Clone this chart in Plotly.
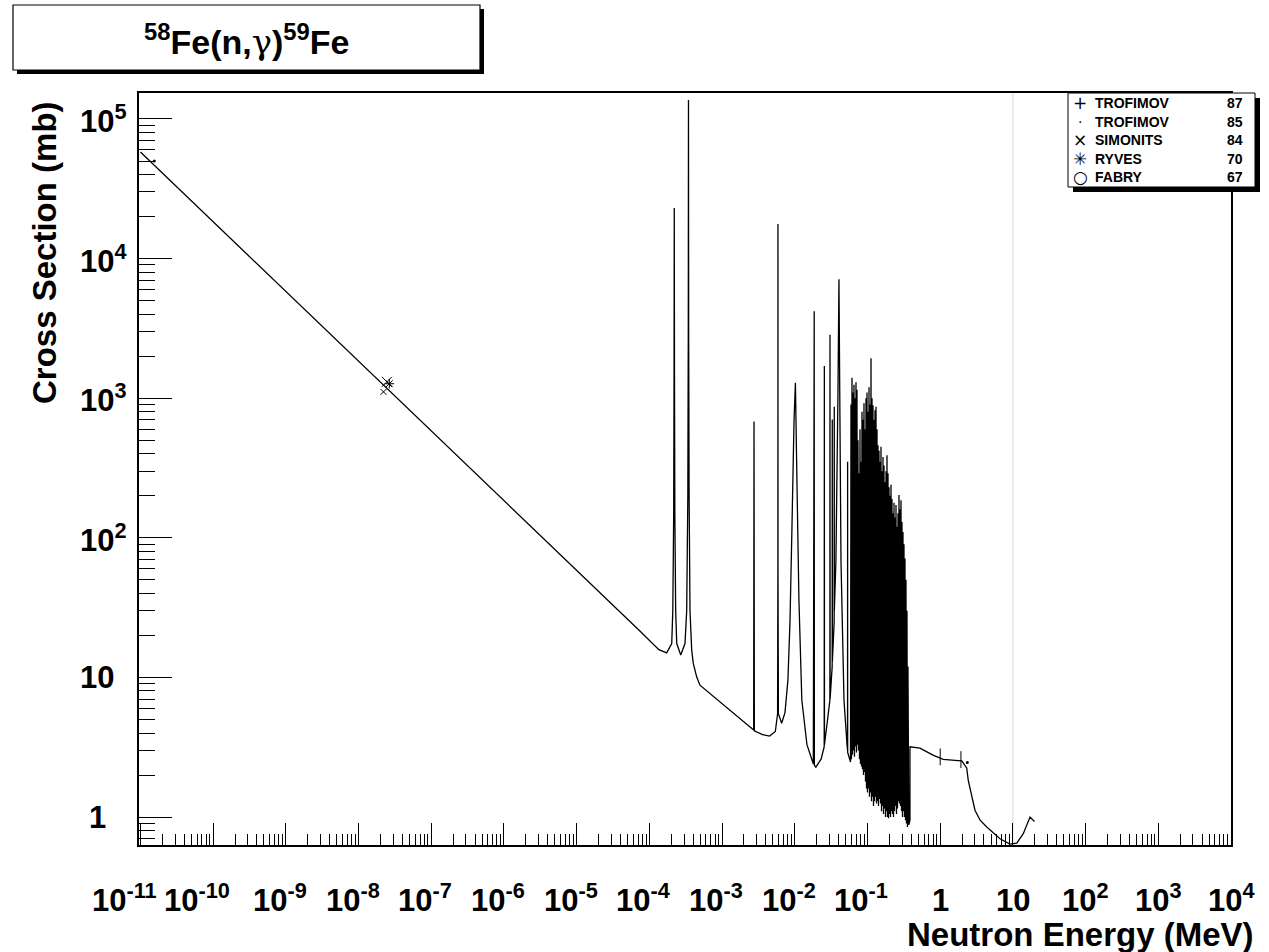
import plotly.graph_objects as go
import math

# ---------------- data ----------------
# 1/v region and first two resonances (E in MeV, sigma in mb)
thermal_E = [1.0e-11, 7.4e-5, 1.35e-4, 1.73e-4, 2.03e-4, 2.10e-4, 2.16e-4, 2.185e-4, 2.20e-4,
             2.215e-4, 2.24e-4, 2.30e-4, 2.38e-4, 2.70e-4, 3.09e-4, 3.26e-4, 3.38e-4, 3.43e-4,
             3.45e-4, 3.47e-4, 3.52e-4, 3.62e-4, 3.82e-4, 4.02e-4, 4.47e-4, 4.96e-4]
thermal_S = [5.8e4, 21.5, 15.8, 15.0, 17.5, 30, 150, 1500, 2.3e4,
             1500, 150, 30, 17.5, 14.5, 17.5, 30, 200, 3000,
             1.37e5, 3000, 200, 30, 15.7, 12.6, 10.1, 8.8]

# resolved resonances 2.7 keV - 58 keV
resolved_E = [2.72e-3, 2.75e-3, 2.78e-3, 3.6e-3, 4.5e-3, 5.4e-3, 5.8e-3, 5.86e-3, 5.87e-3,
              5.88e-3, 5.95e-3, 6.6e-3, 7.33e-3, 8.05e-3, 8.59e-3, 9.13e-3, 9.77e-3, 1.02e-2,
              1.07e-2, 1.14e-2, 1.25e-2, 1.47e-2, 1.80e-2, 1.85e-2, 1.86e-2, 1.95e-2, 2.3e-2,
              2.54e-2, 2.55e-2, 2.56e-2, 2.8e-2, 3.04e-2, 3.05e-2, 3.06e-2, 3.27e-2, 3.28e-2,
              3.29e-2, 3.48e-2, 3.49e-2, 3.50e-2, 3.68e-2, 3.92e-2, 4.05e-2, 4.2e-2, 4.32e-2,
              4.75e-2, 5.23e-2, 5.32e-2, 5.33e-2, 5.34e-2, 5.84e-2]
resolved_S = [4.2, 680, 4.15, 3.9, 3.8, 4.1, 5.5, 60, 1.77e4,
              60, 5.5, 4.7, 5.6, 9.6, 25, 114, 700, 1290,
              260, 36, 6.9, 3.3, 2.4, 4200, 2.35, 2.28, 2.6,
              3.2, 1700, 3.3, 4.8, 6.9, 2850, 7.0, 12, 705,
              13, 25, 870, 30, 69, 1000, 7100, 500, 69,
              6.9, 3.3, 3.0, 350, 2.9, 2.48]

# dense resonance region 59 keV - 0.38 MeV : peaks and troughs
dense_peak_E = [0.0593, 0.0612, 0.0631, 0.0652, 0.0673, 0.0695, 0.0717, 0.0740, 0.0764, 0.0789,
                0.0814, 0.0840, 0.0867, 0.0895, 0.0924, 0.0954, 0.0985, 0.1016, 0.1049, 0.1083,
                0.1118, 0.1154, 0.1191, 0.1229, 0.1269, 0.1310, 0.1352, 0.1395, 0.1440, 0.1487,
                0.1534, 0.1584, 0.1635, 0.1687, 0.1742, 0.1798, 0.1855, 0.1915, 0.1977, 0.2040,
                0.2106, 0.2173, 0.2243, 0.2315, 0.2390, 0.2467, 0.2546, 0.2628, 0.2712, 0.2799,
                0.2890, 0.2982, 0.3078, 0.3177, 0.3279, 0.3384, 0.3493, 0.3605]
dense_peak_S = [900, 1400, 1100, 1250, 1000, 1300, 1150, 500, 290, 600,
                350, 800, 700, 920, 600, 1000, 1100, 800, 1200, 900,
                1930, 1000, 890, 700, 820, 870, 600, 460, 420, 350,
                450, 300, 380, 330, 250, 300, 390, 290, 230, 200,
                240, 190, 150, 178, 140, 172, 120, 150, 203, 160,
                186, 130, 110, 90, 71, 50, 30, 12]
dense_trough_E = [0.0602, 0.0621, 0.0641, 0.0662, 0.0684, 0.0706, 0.0728, 0.0752, 0.0776, 0.0801,
                  0.0827, 0.0853, 0.0881, 0.0909, 0.0939, 0.0969, 0.1000, 0.1032, 0.1066, 0.1100,
                  0.1136, 0.1172, 0.1210, 0.1249, 0.1289, 0.1331, 0.1373, 0.1417, 0.1463, 0.1510,
                  0.1559, 0.1609, 0.1661, 0.1714, 0.1770, 0.1826, 0.1885, 0.1946, 0.2008, 0.2073,
                  0.2139, 0.2208, 0.2279, 0.2352, 0.2428, 0.2506, 0.2587, 0.2670, 0.2756, 0.2844,
                  0.2936, 0.3030, 0.3127, 0.3228, 0.3331, 0.3438, 0.3549, 0.3700]
dense_trough_S = [2.6, 2.8, 3.0, 2.7, 3.2, 2.9, 3.3, 3.0, 2.6, 2.4,
                  2.3, 2.2, 2.0, 2.1, 1.8, 1.6, 1.5, 1.6, 1.4, 1.5,
                  1.3, 1.4, 1.2, 1.3, 1.4, 1.25, 1.3, 1.2, 1.35, 1.25,
                  1.1, 1.2, 1.05, 1.15, 1.0, 1.1, 1.0, 0.98, 1.05, 1.0,
                  1.1, 1.05, 1.0, 1.1, 1.2, 1.05, 1.15, 1.3, 1.25, 1.2,
                  1.1, 1.0, 1.1, 1.0, 0.95, 0.9, 0.85, 0.88]

# smooth continuum above 0.38 MeV
cont_E = [0.3840, 0.3841, 0.527, 0.796, 1.10, 1.60, 1.98, 2.32, 2.43, 2.57, 3.01, 3.54, 4.37,
          6.65, 9.13, 11.3, 13.9, 17.2, 19.8]
cont_S = [0.95, 3.19, 3.12, 2.78, 2.59, 2.55, 2.53, 2.24, 1.84, 1.61, 1.12, 0.95, 0.85,
          0.70, 0.64, 0.65, 0.76, 1.0, 0.93]

# experimental data sets
trof87_E = [1.0, 1.93]
trof87_S = [2.70, 2.58]
trof85_E = [1.55e-11, 2.36]
trof85_S = [5.0e4, 2.46]
simonits_E = [2.45e-8]
simonits_S = [1310]
ryves_E = [2.65e-8]
ryves_S = [1270]
fabry_E = [2.2e-8]
fabry_S = [1110]

legend_names = ["TROFIMOV", "TROFIMOV", "SIMONITS", "RYVES", "FABRY"]
legend_years = ["87", "85", "84", "70", "67"]
legend_glyphs = ["+", "·", "×", "✳", "○"]

x_tick_vals = [1e-11, 1e-10, 1e-9, 1e-8, 1e-7, 1e-6, 1e-5, 1e-4, 1e-3, 1e-2, 1e-1, 1, 10, 1e2, 1e3, 1e4]
x_tick_text = ["10<sup>-11</sup>", "10<sup>-10</sup>", "10<sup>-9</sup>", "10<sup>-8</sup>",
               "10<sup>-7</sup>", "10<sup>-6</sup>", "10<sup>-5</sup>", "10<sup>-4</sup>",
               "10<sup>-3</sup>", "10<sup>-2</sup>", "10<sup>-1</sup>", "1", "10",
               "10<sup>2</sup>", "10<sup>3</sup>", "10<sup>4</sup>"]
y_tick_vals = [1, 10, 1e2, 1e3, 1e4, 1e5]
y_tick_text = ["1", "10", "10<sup>2</sup>", "10<sup>3</sup>", "10<sup>4</sup>", "10<sup>5</sup>"]

title_text = ("<sup>58</sup>Fe(n,<span style='font-family:DejaVu Serif;font-weight:normal'>γ</span>)"
              "<sup>59</sup>Fe")
x_title = "Neutron Energy (MeV)"
y_title = "Cross Section (mb)"

# ---------------- layout geometry ----------------
W, H = 1269, 952
L, R, T, B = 139, 1231, 93, 845
FONT = "Liberation Sans, Arial, Helvetica, sans-serif"


def px(x):
    return (x - L) / (R - L)


def py(y):
    return (B - y) / (B - T)


# assemble the evaluated curve
dense_E, dense_S = [], []
for pe, ps, te, ts in zip(dense_peak_E, dense_peak_S, dense_trough_E, dense_trough_S):
    dense_E += [pe, te]
    dense_S += [ps, ts]
curve_E = thermal_E + resolved_E + dense_E + cont_E
curve_S = thermal_S + resolved_S + dense_S + cont_S

fig = go.Figure()
fig.add_trace(go.Scatter(x=curve_E, y=curve_S, mode="lines",
                         line=dict(color="black", width=1.3, simplify=False),
                         hoverinfo="skip"))

mk = dict(color="black", line=dict(color="black", width=1))
fig.add_trace(go.Scatter(x=trof87_E, y=trof87_S, mode="markers",
                         marker=dict(symbol="line-ns-open", size=12, **mk)))
fig.add_trace(go.Scatter(x=trof85_E, y=trof85_S, mode="markers",
                         marker=dict(symbol="circle", size=3, color="black")))
fig.add_trace(go.Scatter(x=simonits_E, y=simonits_S, mode="markers",
                         marker=dict(symbol="x-thin-open", size=10, **mk)))
fig.add_trace(go.Scatter(x=ryves_E, y=ryves_S, mode="markers",
                         marker=dict(symbol="asterisk-open", size=8, **mk)))
fig.add_trace(go.Scatter(x=fabry_E, y=fabry_S, mode="markers",
                         marker=dict(symbol="x-thin-open", size=6, **mk)))

row_y = [103, 121.5, 140, 158.5, 177]

shapes = []
# 10 MeV light grey vertical line
shapes.append(dict(type="line", xref="x", yref="paper", x0=10, x1=10, y0=0, y1=1,
                   line=dict(color="#d8d8d8", width=1), layer="below"))
# title box with shadow
shapes.append(dict(type="rect", xref="paper", yref="paper", x0=px(17), x1=px(484), y0=py(9), y1=py(74),
                   fillcolor="black", line=dict(width=0), layer="above"))
shapes.append(dict(type="rect", xref="paper", yref="paper", x0=px(13), x1=px(480), y0=py(5), y1=py(70),
                   fillcolor="white", line=dict(color="black", width=1.2), layer="above"))
# legend box with shadow
shapes.append(dict(type="rect", xref="paper", yref="paper", x0=px(1073), x1=px(1260), y0=py(98), y1=py(192),
                   fillcolor="black", line=dict(width=0), layer="above"))
shapes.append(dict(type="rect", xref="paper", yref="paper", x0=px(1068), x1=px(1255), y0=py(93), y1=py(187),
                   fillcolor="white", line=dict(color="black", width=1), layer="above"))

ann = []
ann.append(dict(text=title_text, xref="paper", yref="paper", x=px(247), y=py(40),
                xanchor="center", yanchor="middle", showarrow=False,
                font=dict(family=FONT, size=34, color="black", weight="bold")))
for i, (nm, yr, gl) in enumerate(zip(legend_names, legend_years, legend_glyphs)):
    ann.append(dict(text=gl, xref="paper", yref="paper", x=px(1080), y=py(row_y[i]),
                    xanchor="center", yanchor="middle", showarrow=False,
                    font=dict(family="DejaVu Sans", size=17 if gl != "·" else 14, color="black")))
    ann.append(dict(text=nm, xref="paper", yref="paper", x=px(1093), y=py(row_y[i]),
                    xanchor="left", yanchor="middle", showarrow=False,
                    font=dict(family=FONT, size=14, color="black", weight="bold")))
    ann.append(dict(text=yr, xref="paper", yref="paper", x=px(1245), y=py(row_y[i]),
                    xanchor="right", yanchor="middle", showarrow=False,
                    font=dict(family=FONT, size=14, color="black", weight="bold")))

# x tick labels
for v, t in zip(x_tick_vals, x_tick_text):
    lg = math.log10(v)
    if lg <= -10:
        sh = -16
    elif lg < 0:
        sh = -6
    else:
        sh = 0
    ann.append(dict(text=t, xref="x", yref="paper", x=lg, y=py(920), xshift=sh,
                    xanchor="center", yanchor="bottom", showarrow=False,
                    font=dict(family=FONT, size=31, color="black", weight="bold")))
# y tick labels
for v, t in zip(y_tick_vals, y_tick_text):
    cx = 103 if "sup" in t else 97
    ann.append(dict(text=t, xref="paper", yref="y", x=px(cx), y=math.log10(v),
                    xanchor="center", yanchor="middle", showarrow=False,
                    font=dict(family=FONT, size=31, color="black", weight="bold")))
# axis titles
ann.append(dict(text=y_title, xref="paper", yref="paper", x=px(45), y=py(253), textangle=-90,
                xanchor="center", yanchor="middle", showarrow=False,
                font=dict(family=FONT, size=33, color="black", weight="bold")))
ann.append(dict(text=x_title, xref="paper", yref="paper", x=px(1256), y=py(934),
                xanchor="right", yanchor="middle", showarrow=False,
                font=dict(family=FONT, size=33, color="black", weight="bold")))

axis_common = dict(type="log", showgrid=False, zeroline=False, showticklabels=False,
                   showline=True, linecolor="black", linewidth=1.5, mirror=True,
                   ticks="inside", tickcolor="black", tickwidth=1)

fig.update_layout(
    width=W, height=H, showlegend=False,
    paper_bgcolor="white", plot_bgcolor="white",
    margin=dict(l=L, r=W - R, t=T, b=H - B, pad=0),
    xaxis=dict(range=[-11.02, 4.0], tickmode="array", tickvals=x_tick_vals, ticklen=22,
               minor=dict(ticks="inside", ticklen=11, tickcolor="black", tickwidth=1,
                          dtick="D1", showgrid=False),
               **axis_common),
    yaxis=dict(range=[-0.2, 5.186], tickmode="array", tickvals=y_tick_vals, ticklen=33,
               minor=dict(ticks="inside", ticklen=16, tickcolor="black", tickwidth=1,
                          dtick="D1", showgrid=False),
               **axis_common),
    shapes=shapes, annotations=ann,
)

fig.write_html("out.html", config={"displayModeBar": False},
               post_script="document.body.style.margin='0';document.body.style.padding='0';"
                           "document.body.style.overflow='hidden';")
